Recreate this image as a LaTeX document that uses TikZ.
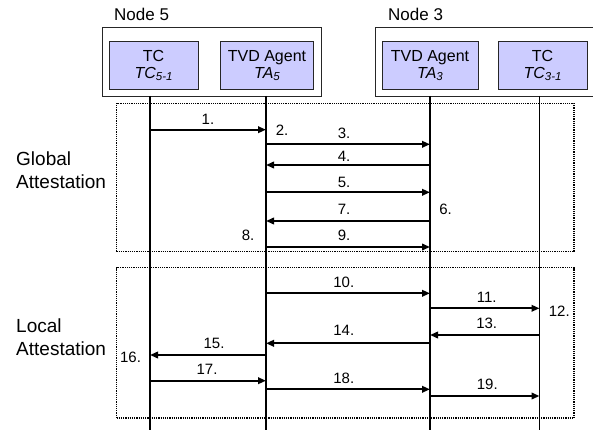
\documentclass[tikz,border=0pt]{standalone}
\usepackage{fontspec}
\setmainfont{Liberation Sans}
\usetikzlibrary{arrows.meta}

\definecolor{agentfill}{RGB}{204,204,255}

% lowered, smaller index used in the component names
\newcommand{\subidx}[1]{\raisebox{-1.5pt}{\fontsize{11.5}{12}\selectfont #1}}

\begin{document}
\begin{tikzpicture}[x=1pt,y=-1pt,
  every node/.style={inner sep=0pt},
  frame/.style={draw=black!85, line width=0.9pt},
  comp/.style={draw=black!85, line width=0.9pt, fill=agentfill, align=center,
    font=\fontsize{16}{17.5}\selectfont, minimum height=47.5pt},
  phase/.style={draw, line width=1.3pt, dash pattern=on 1.2pt off 1pt},
  lifeline/.style={line width=1.4pt},
  msg/.style={line width=2pt, -{Triangle[length=8pt,width=6.5pt]}},
  num/.style={font=\fontsize{15}{15}\selectfont, anchor=base},
  title/.style={font=\fontsize{17}{17}\selectfont, anchor=base west},
  side/.style={font=\fontsize{19}{23}\selectfont, align=left, anchor=north west}
]
\useasboundingbox (0,0) rectangle (593,430);

% host frames
\node[frame, minimum width=219pt, minimum height=68.5pt] (node5) at (212,62) {};
\node[frame, minimum width=222pt, minimum height=68.5pt] (node3) at (486,62) {};
\node[title] (node5label) at (114,21) {Node 5};
\node[title] (node3label) at (388,21) {Node 3};

% components
\node[comp, minimum width=89pt] (tc5) at (153.5,65.3) {TC\\\textit{TC\subidx{5-1}}};
\node[comp, minimum width=93pt] (ta5) at (267,65.3) {TVD Agent\\\textit{TA\subidx{5}}};
\node[comp, minimum width=96pt] (ta3) at (430,65.3) {TVD Agent\\\textit{TA\subidx{3}}};
\node[comp, minimum width=89pt] (tc3) at (542.5,65.3) {TC\\\textit{TC\subidx{3-1}}};

% phase frames
\node[phase, minimum width=457.5pt, minimum height=148.2pt] (gbox) at (345.25,177.6) {};
\node[phase, minimum width=457.5pt, minimum height=150.3pt] (lbox) at (345.25,342.85) {};
\node[side] (global) at (16,151.7) {Global\\Attestation};
\node[side] (local) at (16,318.7) {Local\\Attestation};

% lifelines
\coordinate (la) at (150,96);   \coordinate (laend) at (150,431);
\coordinate (lb) at (266,96);   \coordinate (lbend) at (266,431);
\coordinate (lc) at (430,96);   \coordinate (lcend) at (430,431);
\coordinate (ld) at (539.5,96); \coordinate (ldend) at (539.5,431);
\draw[lifeline] (la) -- (laend);
\draw[lifeline] (lb) -- (lbend);
\draw[lifeline] (lc) -- (lcend);
\draw[lifeline] (ld) -- (ldend);

% global attestation messages
\draw[msg] (la |- 0,129.7) -- (lb |- 0,129.7);
\draw[msg] (lb |- 0,144.3) -- (lc |- 0,144.3);
\draw[msg] (lc |- 0,165) -- (lb |- 0,165);
\draw[msg] (lb |- 0,192.3) -- (lc |- 0,192.3);
\draw[msg] (lc |- 0,221) -- (lb |- 0,221);
\draw[msg] (lb |- 0,247) -- (lc |- 0,247);

% local attestation messages
\draw[msg] (lb |- 0,293.3) -- (lc |- 0,293.3);
\draw[msg] (lc |- 0,308.3) -- (ld |- 0,308.3);
\draw[msg] (ld |- 0,335) -- (lc |- 0,335);
\draw[msg] (lc |- 0,343.3) -- (lb |- 0,343.3);
\draw[msg] (lb |- 0,355) -- (la |- 0,355);
\draw[msg] (la |- 0,380.7) -- (lb |- 0,380.7);
\draw[msg] (lb |- 0,389.3) -- (lc |- 0,389.3);
\draw[msg] (lc |- 0,396) -- (ld |- 0,396);

% step numbers
\node[num] (s1) at (208,124.3) {1.};
\node[num] (s2) at (282,135.7) {2.};
\node[num] (s3) at (344,138.3) {3.};
\node[num] (s4) at (344,161.7) {4.};
\node[num] (s5) at (344,187.3) {5.};
\node[num] (s6) at (445.5,214) {6.};
\node[num] (s7) at (344,214) {7.};
\node[num] (s8) at (248,240.7) {8.};
\node[num] (s9) at (344,240) {9.};
\node[num] (s10) at (343.8,287.3) {10.};
\node[num] (s11) at (486.7,302.7) {11.};
\node[num] (s12) at (559.3,316.7) {12.};
\node[num] (s13) at (486.7,328.3) {13.};
\node[num] (s14) at (343.8,335) {14.};
\node[num] (s15) at (214,348.3) {15.};
\node[num] (s16) at (130.5,362.3) {16.};
\node[num] (s17) at (207,374) {17.};
\node[num] (s18) at (343.8,383.7) {18.};
\node[num] (s19) at (487.3,389.3) {19.};
\end{tikzpicture}
\end{document}
